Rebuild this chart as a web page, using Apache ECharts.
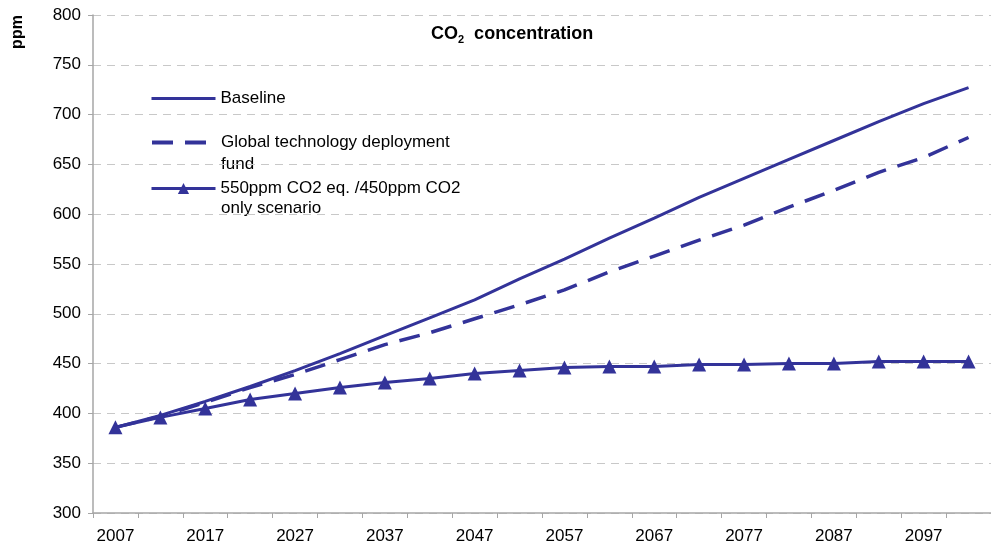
<!DOCTYPE html>
<html><head><meta charset="utf-8">
<script src="https://cdn.jsdelivr.net/npm/echarts@6/dist/echarts.min.js"></script>
<style>html,body{margin:0;padding:0;background:#fff}#c{width:991px;height:549px}</style>
</head><body><div id="c"></div>
<script>
const years = ['2007','2012','2017','2022','2027','2032','2037','2042','2047','2052','2057','2062','2067','2072','2077','2082','2087','2092','2097','2102'];
const baseline = [386,398,412,427,443,460,478,496,514,535,555,576,596,617,636,655,674,693,711,727];
const gtdf = [386,397,411,426,439,454,469,481,495,509,524,542,558,574,589,607,624,642,657,677];
const scen550 = [386,396,405,414,420,426,431,435,440,443,446,447,447,449,449,450,450,452,452,452];
const yTicks = [300,350,400,450,500,550,600,650,700,750,800];

const C = '#333399';
const FONT = '"Liberation Sans", Arial, sans-serif';
const FS = 17;
const chart = echarts.init(document.getElementById('c'));
function legendAt(name, top, label, hideSymbol, lw) {
  return {
    show: true, data: [name], left: 150, top: top, padding: 0,
    itemWidth: 64, itemHeight: 14, itemGap: 0,
    formatter: () => label,
    itemStyle: hideSymbol ? {opacity: 0} : {},
    lineStyle: {width: lw},
    textStyle: {fontFamily: FONT, fontSize: FS, color: '#000', padding: [0,0,0,0]},
    selectedMode: false
  };
}
chart.setOption({
  animation: false,
  textStyle: {fontFamily: FONT},
  title: {
    text: '{a|CO}{s|2}{a|  concentration}',
    left: 426, top: 19,
    textStyle: {rich: {
      a: {fontFamily: FONT, fontSize: 18, fontWeight: 'bold', color: '#000'},
      s: {fontFamily: FONT, fontSize: 11, fontWeight: 'bold', color: '#000', padding: [10,0,0,0]}
    }}
  },
  legend: [
    legendAt('Baseline', 90, 'Baseline', true, 3),
    legendAt('Global technology deployment fund', 134, 'Global technology deployment', true, 4),
    legendAt('550ppm CO2 eq. /450ppm CO2 only scenario', 180, '550ppm CO2 eq. /450ppm CO2', false, 3)
  ],
  graphic: [
    {type: 'text', left: 221, top: 156, style: {text: 'fund', font: FS + 'px ' + FONT, fill: '#000'}},
    {type: 'text', left: 221, top: 200, style: {text: 'only scenario', font: FS + 'px ' + FONT, fill: '#000'}},
    {type: 'text', x: 18, y: 32, rotation: Math.PI / 2,
     style: {text: 'ppm', font: 'bold 16px ' + FONT, fill: '#000', align: 'center', verticalAlign: 'middle'}}
  ],
  grid: {left: 93, right: -4, top: 15, bottom: 36, containLabel: false},
  xAxis: {
    type: 'category', data: years, boundaryGap: true,
    axisLine: {lineStyle: {color: '#a6a6a6', width: 1.5}},
    axisTick: {show: true, interval: 0, length: 5, lineStyle: {color: '#a6a6a6'}},
    axisLabel: {interval: 1, color: '#000', fontSize: FS, fontFamily: FONT, margin: 15},
    splitLine: {show: false}
  },
  yAxis: {
    type: 'value', min: yTicks[0], max: yTicks[yTicks.length - 1], interval: 50,
    axisLine: {show: true, lineStyle: {color: '#a6a6a6', width: 1.5}},
    axisTick: {show: true, length: 5, lineStyle: {color: '#a6a6a6'}},
    axisLabel: {color: '#000', fontSize: FS, fontFamily: FONT, margin: 12},
    splitLine: {show: true, lineStyle: {color: '#c8c8c8', type: [8, 6], width: 1}}
  },
  series: [
    {name: 'Baseline', type: 'line', data: baseline, symbol: 'none', color: C,
     lineStyle: {color: C, width: 3}, z: 3},
    {name: 'Global technology deployment fund', type: 'line', data: gtdf, symbol: 'none', color: C,
     lineStyle: {color: C, width: 3.5, type: [21, 12]}, z: 2},
    {name: '550ppm CO2 eq. /450ppm CO2 only scenario', type: 'line', data: scen550, color: C,
     symbol: 'triangle', symbolSize: 14, showSymbol: true,
     itemStyle: {color: C}, lineStyle: {color: C, width: 3}, z: 4}
  ]
});
</script></body></html>
